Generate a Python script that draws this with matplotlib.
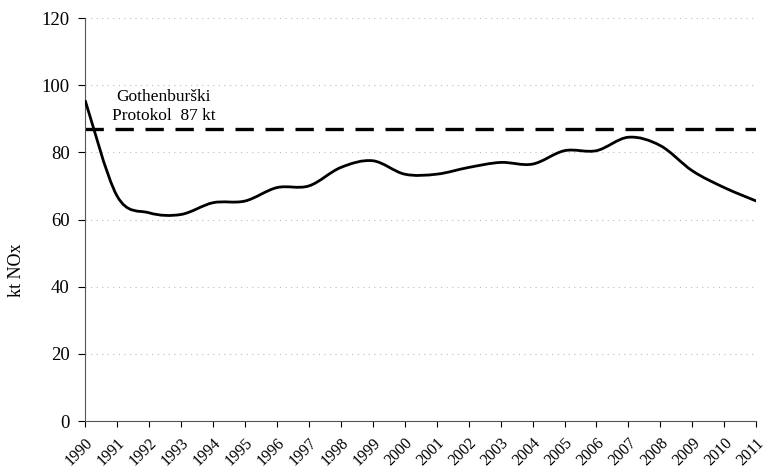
import numpy as np
import matplotlib
matplotlib.use("Agg")
import matplotlib.pyplot as plt
from matplotlib.path import Path
from matplotlib.patches import PathPatch

# Emisije NOx (kt) po godinama, očitano s grafa
years = list(range(1990, 2012))
nox = [95.5, 67.0, 62.0, 61.5, 65.0, 65.5, 69.5, 70.0, 75.5, 77.5, 73.5,
       73.5, 75.5, 77.0, 76.5, 80.5, 80.5, 84.5, 82.0, 74.5, 69.5, 65.5]
gothenburg_limit = 87
limit_label = "Gothenburški\nProtokol  87 kt"
y_ticks = [0, 20, 40, 60, 80, 100, 120]

plt.rcParams["font.family"] = ["Liberation Serif", "DejaVu Serif"]


def smooth_path(xs, ys):
    """Catmull-Rom style smoothing expressed as cubic Bezier segments."""
    xs = np.asarray(xs, dtype=float)
    ys = np.asarray(ys, dtype=float)
    n = len(xs)
    verts = [(xs[0], ys[0])]
    codes = [Path.MOVETO]
    for i in range(n - 1):
        x0, y0 = (xs[i - 1], ys[i - 1]) if i > 0 else (xs[i], ys[i])
        x1, y1 = xs[i], ys[i]
        x2, y2 = xs[i + 1], ys[i + 1]
        x3, y3 = (xs[i + 2], ys[i + 2]) if i + 2 < n else (x2, y2)
        c1 = (x1 + (x2 - x0) / 6.0, y1 + (y2 - y0) / 6.0)
        c2 = (x2 - (x3 - x1) / 6.0, y2 - (y3 - y1) / 6.0)
        verts += [c1, c2, (x2, y2)]
        codes += [Path.CURVE4] * 3
    return Path(verts, codes)


fig = plt.figure(figsize=(7.67, 4.68), dpi=100)
ax = fig.add_axes([0.111, 0.1004, 0.875, 0.8611])

ax.add_patch(PathPatch(smooth_path(years, nox), facecolor="none",
                       edgecolor="black", linewidth=2.0, zorder=3))
ax.plot([years[0], years[-1]], [gothenburg_limit, gothenburg_limit],
        color="black", linewidth=2.4, linestyle=(0, (5.5, 3.5)), zorder=2)

ax.text(1992.45, 93.6, limit_label, ha="center", va="center",
        fontsize=12.5, linespacing=1.25)

ax.set_xlim(years[0], years[-1])
ax.set_ylim(0, 120)
ax.set_yticks(y_ticks)
ax.set_xticks(years)
ax.set_xticklabels([str(y) for y in years], rotation=45, ha="right",
                   rotation_mode="anchor", fontsize=11.5)
ax.tick_params(axis="y", labelsize=13.5, direction="out", length=5,
               width=0.8, pad=6)
ax.tick_params(axis="x", direction="out", length=4, width=0.8, pad=6)

ax.set_ylabel("kt NOx", fontsize=13)
ax.yaxis.set_label_coords(-0.09, 0.375)

ax.yaxis.grid(True, linestyle=(0, (1, 4)), color="#bbbbbb", linewidth=0.8)
ax.set_axisbelow(True)

for side in ("top", "right"):
    ax.spines[side].set_visible(False)
ax.spines["left"].set_color("#555555")
ax.spines["bottom"].set_color("#555555")

fig.savefig("out.png", dpi=100)
